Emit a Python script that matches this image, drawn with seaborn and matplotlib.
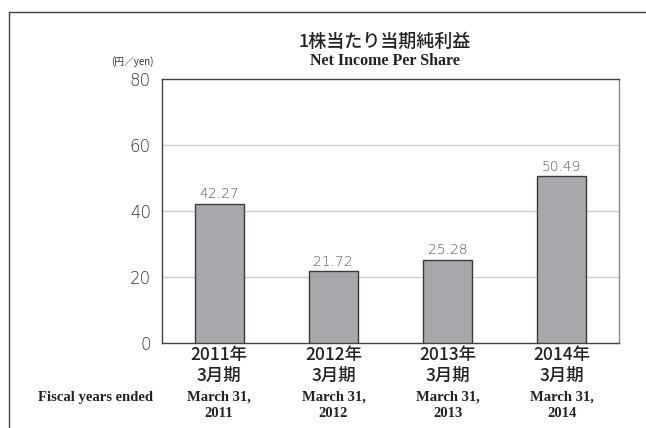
import matplotlib
matplotlib.use("Agg")
import matplotlib.pyplot as plt
import matplotlib.transforms as mtransforms
from matplotlib.lines import Line2D
import seaborn as sns
import pandas as pd

# data
years = ["2011", "2012", "2013", "2014"]
jp_labels = ["2011年\n3月期", "2012年\n3月期", "2013年\n3月期", "2014年\n3月期"]
en_labels = ["March 31,\n2011", "March 31,\n2012", "March 31,\n2013", "March 31,\n2014"]
values = [42.27, 21.72, 25.28, 50.49]
yticks = [0, 20, 40, 60, 80]

sns.set_theme(style="white")
plt.rcParams['font.family'] = ['Noto Sans CJK JP', 'DejaVu Sans']

df = pd.DataFrame({"year": years, "eps": values})

fig = plt.figure(figsize=(6.46, 4.28), dpi=100)
ax = fig.add_axes([162/646, 1-343/428, (619-162)/646, (343-79)/428])

sns.barplot(data=df, x="year", y="eps", ax=ax, color="#a7a8ab",
            edgecolor="#3a3a3a", linewidth=1.0, width=0.43, saturation=1, zorder=3)

ax.set_xlim(-0.5, 3.5)
ax.set_ylim(0, 80)
ax.set_yticks(yticks)
ax.set_yticklabels([str(t) for t in yticks], fontsize=12, color="#333333",
                   fontweight="light", family="DejaVu Sans")
ax.tick_params(axis="y", length=0, pad=8)
for t in [20, 40, 60]:
    ax.axhline(t, color="#cfcfcf", lw=1.0, zorder=1)

ax.set_xticks(range(4))
ax.set_xticklabels(jp_labels, fontsize=12.5, color="#222222", linespacing=1.2,
                   fontweight="medium")
ax.tick_params(axis="x", length=0, pad=2)
ax.set_xticks([0.5, 1.5, 2.5], minor=True)
ax.tick_params(axis="x", which="minor", direction="in", length=4, width=1, color="#333333")
ax.set_xlabel("")
ax.set_ylabel("")

for s in ["left", "right", "top", "bottom"]:
    ax.spines[s].set_visible(True)
    ax.spines[s].set_linewidth(1.0)
ax.spines["left"].set_color("#444444")
ax.spines["top"].set_color("#444444")
ax.spines["bottom"].set_color("#444444")
ax.spines["right"].set_color("#888888")

for i, v in enumerate(values):
    ax.text(i, v + 0.8, f"{v:.2f}", ha="center", va="bottom", fontsize=10,
            color="#555555", fontweight="light", family="DejaVu Sans")

trans = mtransforms.blended_transform_factory(ax.transData, fig.transFigure)
for i, lab in enumerate(en_labels):
    ax.text(i, 1-405.5/428, lab, transform=trans, ha="center", va="center",
            fontsize=10.5, fontweight="bold", family="Liberation Serif",
            color="#222222", linespacing=1.3)

fig.text(38/646, 1-397/428, "Fiscal years ended", ha="left", va="center",
         fontsize=10.5, fontweight="bold", family="Liberation Serif", color="#222222")

fig.text(385/646, 1-42/428, "1株当たり当期純利益", ha="center", va="center",
         fontsize=13, fontweight="medium", color="#222222")
fig.text(385/646, 1-61/428, "Net Income Per Share", ha="center", va="center",
         fontsize=11.5, fontweight="bold", family="Liberation Serif", color="#222222")
fig.text(132/646, 1-62/428, "(円／yen)", ha="center", va="center",
         fontsize=7, color="#333333")

# outer frame
fig.add_artist(Line2D([9/646, 1], [1-12/428, 1-12/428], transform=fig.transFigure,
                      color="#444444", lw=1.0))
fig.add_artist(Line2D([9/646, 9/646], [0, 1-12/428], transform=fig.transFigure,
                      color="#444444", lw=1.0))

fig.savefig("out.png", dpi=100)
